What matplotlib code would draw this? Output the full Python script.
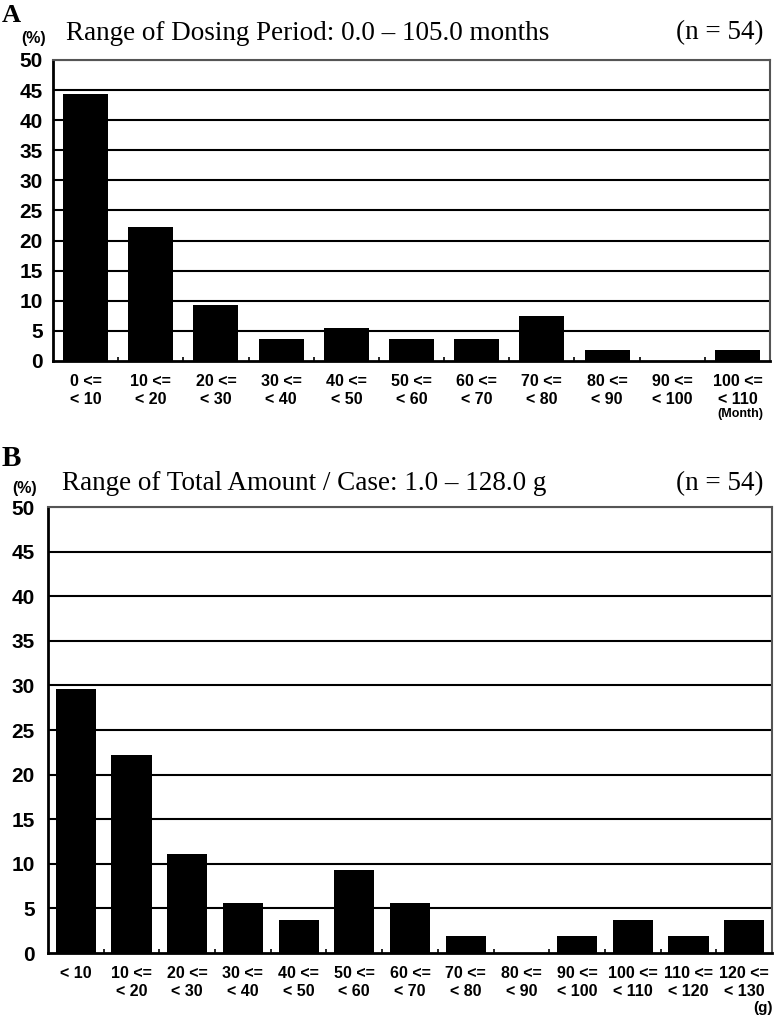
import matplotlib
matplotlib.use('Agg')
import matplotlib.pyplot as plt
import numpy as np

# Панель A: период приёма (месяцы)
labels_a = ['0 <=\n< 10', '10 <=\n< 20', '20 <=\n< 30', '30 <=\n< 40', '40 <=\n< 50',
            '50 <=\n< 60', '60 <=\n< 70', '70 <=\n< 80', '80 <=\n< 90', '90 <=\n< 100',
            '100 <=\n< 110']
values_a = [44.4, 22.2, 9.26, 3.7, 5.56, 3.7, 3.7, 7.41, 1.85, 0.0, 1.85]

# Панель B: общее количество / случай (г)
labels_b = ['< 10', '10 <=\n< 20', '20 <=\n< 30', '30 <=\n< 40', '40 <=\n< 50',
            '50 <=\n< 60', '60 <=\n< 70', '70 <=\n< 80', '80 <=\n< 90', '90 <=\n< 100',
            '100 <=\n< 110', '110 <=\n< 120', '120 <=\n< 130']
values_b = [29.6, 22.2, 11.1, 5.56, 3.7, 9.26, 5.56, 1.85, 0.0, 1.85, 3.7, 1.85, 3.7]

yticks = [0, 5, 10, 15, 20, 25, 30, 35, 40, 45, 50]

W, H = 774, 1022
fig = plt.figure(figsize=(W / 100, H / 100), dpi=100)

SANS = 'Liberation Sans'
SERIF = 'Liberation Serif'


def draw_panel(ax, labels, values, bar_w, ypad):
    n = len(values)
    x = np.arange(n)
    # сетка
    for y in yticks[1:-1]:
        ax.axhline(y, color='black', lw=1.5, zorder=1)
    ax.axhline(50, color='#555555', lw=1.5, zorder=1)
    ax.bar(x, values, width=bar_w, color='black', zorder=2)
    ax.set_xlim(-0.5, n - 0.5)
    ax.set_ylim(0, 50)
    ax.set_yticks(yticks)
    ax.set_yticklabels([str(t) for t in yticks], fontfamily=SANS, fontweight='bold', fontsize=15)
    ax.set_xticks(x)
    ax.set_xticklabels(labels, fontfamily=SANS, fontweight='bold', fontsize=11.5,
                       va='top', linespacing=1.3)
    ax.tick_params(axis='x', which='major', length=0, pad=9)
    ax.tick_params(axis='y', length=0, pad=ypad)
    ax.set_xticks(np.arange(n - 1) + 0.5, minor=True)
    ax.tick_params(axis='x', which='minor', direction='in', length=3, width=1.2)
    for s in ['left', 'bottom']:
        ax.spines[s].set_linewidth(2)
        ax.spines[s].set_color('black')
    for s in ['top', 'right']:
        ax.spines[s].set_linewidth(1.5)
        ax.spines[s].set_color('#555555')


ax_a = fig.add_axes([53 / W, 1 - 361 / H, 717 / W, 301 / H])
draw_panel(ax_a, labels_a, values_a, 0.69, 7.5)

ax_b = fig.add_axes([48 / W, 1 - 953 / H, 724 / W, 446 / H])
draw_panel(ax_b, labels_b, values_b, 0.72, 9.5)

# подписи панелей
fig.text(2 / W, 1 - 15 / H, 'A', fontfamily=SERIF, fontweight='bold', fontsize=19, va='center')
fig.text(2 / W, 1 - 459 / H, 'B', fontfamily=SERIF, fontweight='bold', fontsize=21, va='center')

fig.text(34 / W, 1 - 39 / H, '(%)', fontfamily=SANS, fontweight='bold', fontsize=11.5,
         ha='center', va='center')
fig.text(25 / W, 1 - 488 / H, '(%)', fontfamily=SANS, fontweight='bold', fontsize=11.5,
         ha='center', va='center')

fig.text(66 / W, 1 - 33 / H, 'Range of Dosing Period: 0.0 \u2013 105.0 months',
         fontfamily=SERIF, fontsize=19.5, va='center')
fig.text(764 / W, 1 - 33 / H, '(n = 54)', fontfamily=SERIF, fontsize=19.5, va='center', ha='right')

fig.text(62 / W, 1 - 484 / H, 'Range of Total Amount / Case: 1.0 \u2013 128.0 g',
         fontfamily=SERIF, fontsize=19.5, va='center')
fig.text(764 / W, 1 - 484 / H, '(n = 54)', fontfamily=SERIF, fontsize=19.5, va='center', ha='right')

fig.text(740 / W, 1 - 414 / H, '(Month)', fontfamily=SANS, fontweight='bold', fontsize=9,
         ha='center', va='center')
fig.text(763 / W, 1 - 1008 / H, '(g)', fontfamily=SANS, fontweight='bold', fontsize=11,
         ha='center', va='center')

fig.savefig('out.png', dpi=100, facecolor='white')
